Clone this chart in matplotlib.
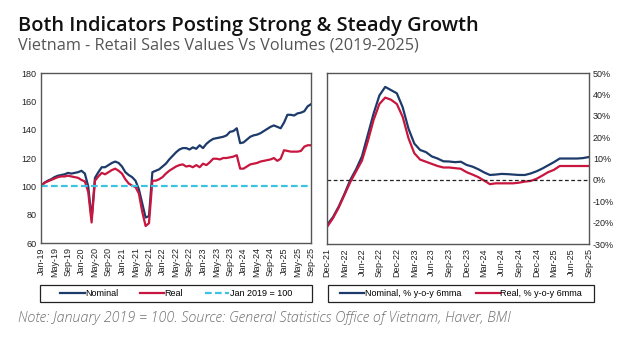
import matplotlib
matplotlib.use("Agg")
import matplotlib.pyplot as plt
import pandas as pd
from matplotlib.patches import Rectangle

# monthly index levels, Jan 2019 = 100
nominal = [
    100, 102.5, 104, 105, 106.5, 107.5, 108, 108.5, 109.5, 109, 109.5, 110,
    111, 109, 100, 77, 106, 110, 113.5, 113.5, 115, 116.5, 117.5, 116.5,
    114, 110, 108, 106.5, 104, 98, 88, 78, 79, 110, 111, 112,
    114, 116, 119, 121.5, 124, 126, 127, 127, 126, 127.5, 126.5, 129,
    127, 130, 132, 133.5, 134, 134.5, 135, 136, 138.5, 139, 141, 130.5,
    131, 133, 135, 136, 136.5, 137.5, 139, 140.5, 142, 143, 142, 141,
    145, 150.5, 150.5, 150, 151.5, 152, 153, 156.5, 158,
]
real = [
    100, 102.5, 103.5, 104.5, 105.5, 106.5, 107, 107, 107.5, 107, 106.5, 106,
    104.5, 103.5, 96, 74.5, 104, 107, 109.5, 108.5, 110, 111.5, 112.5, 111,
    109, 105, 102, 100.5, 99.5, 95, 82, 72, 74, 104, 104, 105,
    106.5, 109, 111, 112.5, 114, 115, 115.5, 114, 114.5, 113.5, 115, 113.5,
    116, 115, 117, 119.5, 119.5, 119, 120, 120, 120.5, 121, 122, 112.5,
    112.5, 114, 115.5, 116, 116.5, 117.5, 118, 118.5, 119, 120, 118, 119.5,
    125.5, 125, 124.5, 124.5, 124.5, 125, 128, 129, 129,
]

# % y-o-y, 6-month moving average, Dec-21 to Sep-25
nominal_yoy = [
    -21, -17.5, -12.5, -6.5, 0, 5, 11, 21, 31, 39.5, 43.5, 42,
    40.5, 34, 24, 17, 14, 13, 11, 10, 8.7, 8.6, 8.3, 8.5,
    7, 6.2, 5, 3.5, 2.3, 2.5, 2.8, 2.7, 2.5, 2.3, 2.3, 3,
    4, 5.3, 6.8, 8.3, 10, 10, 10, 10, 10.2, 10.7,
]
real_yoy = [
    -22, -18, -13, -7, -1, 4, 9, 18, 28, 35.5, 38.5, 37.5,
    35.5, 29.5, 19.5, 12.5, 9.5, 8.5, 7.5, 6.5, 5.8, 5.8, 5.5, 5.2,
    3.6, 2.5, 1.3, -0.3, -2, -1.6, -1.6, -1.6, -1.6, -1.3, -0.8, -0.5,
    0.5, 2, 3.6, 4.7, 6.5, 6.5, 6.5, 6.5, 6.5, 6.5,
]

dates_l = pd.date_range("2019-01-01", periods=len(nominal), freq="MS")
dates_r = pd.date_range("2021-12-01", periods=len(nominal_yoy), freq="MS")

NAVY = "#1d3b6a"
RED = "#c8163f"
CYAN = "#3cc3e3"
TICKFONT = ["Liberation Sans Narrow", "Liberation Sans", "DejaVu Sans"]

fig = plt.figure(figsize=(6.4, 3.38), dpi=100)
ax1 = fig.add_axes([0.064, 0.281, 0.422, 0.503])
ax2 = fig.add_axes([0.511, 0.278, 0.409, 0.506])

# left panel: index levels
ax1.plot(range(len(nominal)), nominal, color=NAVY, lw=1.6, label="Nominal")
ax1.plot(range(len(real)), real, color=RED, lw=1.6, label="Real")
ax1.axhline(100, color=CYAN, lw=1.6, ls=(0, (3, 1.5)), label="Jan 2019 = 100")
ax1.set_ylim(60, 180)
ax1.set_yticks(range(60, 181, 20))
ax1.set_xlim(0, len(nominal) - 1)
xt1 = list(range(0, len(nominal), 4))
ax1.set_xticks(xt1)
ax1.set_xticklabels([dates_l[i].strftime("%b-%y") for i in xt1], rotation=90)

# right panel: growth rates
ax2.plot(range(len(nominal_yoy)), nominal_yoy, color=NAVY, lw=1.6,
         label="Nominal, % y-o-y 6mma")
ax2.plot(range(len(real_yoy)), real_yoy, color=RED, lw=1.6,
         label="Real, % y-o-y 6mma")
ax2.axhline(0, color="#222222", lw=0.9, ls=(0, (3, 2)))
ax2.set_ylim(-30, 50)
ax2.set_yticks(range(-30, 51, 10))
ax2.set_yticklabels([f"{v}%" for v in range(-30, 51, 10)])
ax2.yaxis.tick_right()
ax2.set_xlim(0, len(nominal_yoy) - 1)
xt2 = list(range(0, len(nominal_yoy), 3))
ax2.set_xticks(xt2)
ax2.set_xticklabels([dates_r[i].strftime("%b-%y") for i in xt2], rotation=90)

for ax in (ax1, ax2):
    for s in ax.spines.values():
        s.set_color("#555555")
        s.set_linewidth(1.0)
    ax.tick_params(length=0, pad=3, labelsize=6.5, labelcolor="#222222")
    for lab in ax.get_xticklabels() + ax.get_yticklabels():
        lab.set_family(TICKFONT)

# legend boxes drawn as plain rectangles, legends centred inside them
boxes = [(0.0625, 0.107, 0.425, 0.05), (0.5125, 0.107, 0.416, 0.05)]
for (x0, y0, w, h), ax, nc, cs in zip(boxes, (ax1, ax2), (3, 2), (2.4, 1.6)):
    fig.patches.append(Rectangle((x0, y0), w, h, transform=fig.transFigure,
                                 fill=False, edgecolor="#222222", lw=0.9))
    fig.legend(*ax.get_legend_handles_labels(), ncol=nc, frameon=False,
               loc="center", bbox_to_anchor=(x0 + w / 2, y0 + h / 2),
               handlelength=2.7, handletextpad=0.05, columnspacing=cs,
               prop={"family": TICKFONT, "size": 6.5})

fig.text(0.028, 0.908, "Both Indicators Posting Strong & Steady Growth",
         family=["Open Sans", "DejaVu Sans"], weight="semibold", fontsize=14.4,
         color="#111111")
fig.text(0.028, 0.855, "Vietnam - Retail Sales Values Vs Volumes (2019-2025)",
         family=["Open Sans", "DejaVu Sans"], fontsize=11.7, color="#555555")
fig.text(0.028, 0.047,
         "Note: January 2019 = 100. Source: General Statistics Office of Vietnam, Haver, BMI",
         family=["Open Sans", "DejaVu Sans"], style="italic", weight="light",
         fontsize=10.3, color="#707070")

fig.savefig("out.png", dpi=100)
